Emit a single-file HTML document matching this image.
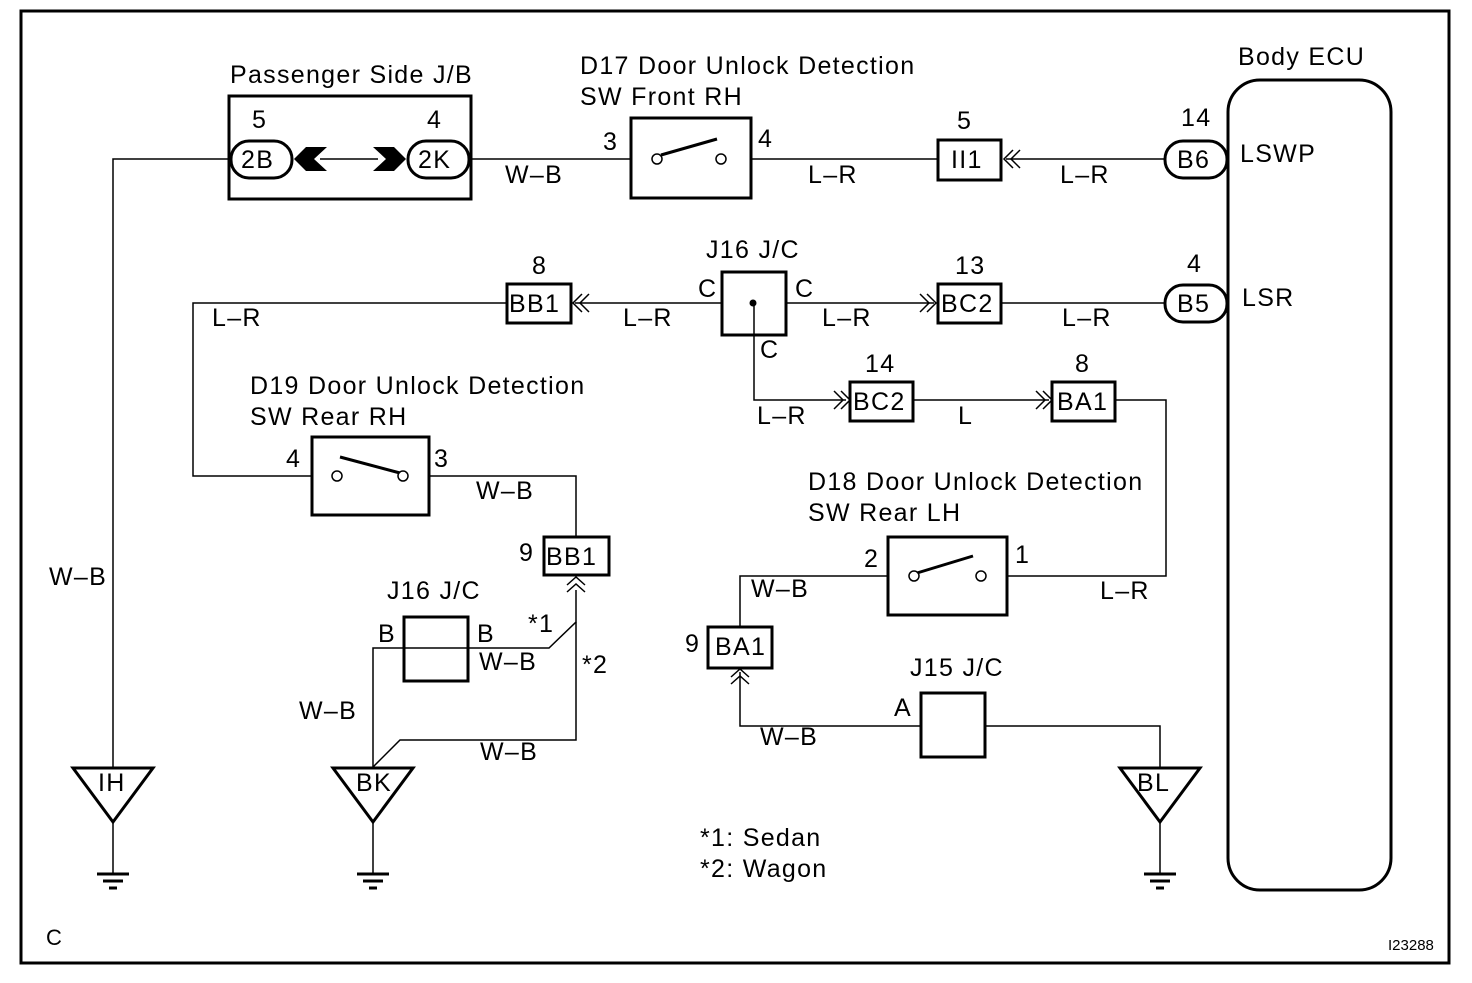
<!DOCTYPE html>
<html><head><meta charset="utf-8"><style>
html,body{margin:0;padding:0;background:#fff}
svg text{font-family:"Liberation Sans",Arial,sans-serif;font-size:25px;letter-spacing:1.3px;fill:#000}
</style></head><body>
<svg width="1472" height="978" viewBox="0 0 1472 978" xmlns="http://www.w3.org/2000/svg">
<rect x="21" y="11" width="1428" height="952" fill="none" stroke="#000" stroke-width="3"/>
<g fill="none" stroke="#000" stroke-width="1.5">
<polyline points="231,159 113,159 113,767"/>
<line x1="320" y1="159" x2="378" y2="159"/>
<line x1="469" y1="159" x2="631" y2="159"/>
<line x1="751" y1="159" x2="938" y2="159"/>
<line x1="1006" y1="159" x2="1165" y2="159"/>
<polyline points="507,303 193,303 193,476 312,476"/>
<line x1="575" y1="303" x2="722" y2="303"/>
<line x1="786" y1="303" x2="934" y2="303"/>
<line x1="1001" y1="303" x2="1165" y2="303"/>
<polyline points="754,303 754,400 846,400"/>
<line x1="913" y1="400" x2="1049" y2="400"/>
<polyline points="1115,400 1166,400 1166,576 1007,576"/>
<polyline points="429,476 576,476 576,537"/>
<polyline points="576,590 576,622 549,648 373,648 373,767"/>
<polyline points="576,622 576,740 400,740 373,767"/>
<polyline points="888,576 740,576 740,627"/>
<polyline points="740,672 740,726 921,726"/>
<polyline points="985,726 1160,726 1160,767"/>
<polyline points="1020,150 1011,159 1020,168"/><polyline points="1013,150 1004,159 1013,168"/>
<polyline points="589,294 580,303 589,312"/><polyline points="582,294 573,303 582,312"/>
<polyline points="920,294 929,303 920,312"/><polyline points="927,294 936,303 927,312"/>
<polyline points="834,391 843,400 834,409"/><polyline points="841,391 850,400 841,409"/>
<polyline points="1036,391 1045,400 1036,409"/><polyline points="1043,391 1052,400 1043,409"/>
<polyline points="567,585 576,577 585,585"/><polyline points="567,592 576,584 585,592"/>
<polyline points="731,677 740,669 749,677"/><polyline points="731,684 740,676 749,684"/>
<line x1="113" y1="822" x2="113" y2="873"/><line x1="373" y1="822" x2="373" y2="873"/><line x1="1160" y1="822" x2="1160" y2="873"/>
</g>
<g fill="none" stroke="#000" stroke-width="3">
<rect x="229" y="96" width="242" height="103"/>
<rect x="631" y="118" width="120" height="80"/>
<rect x="312" y="437" width="117" height="78"/>
<rect x="888" y="537" width="119" height="78"/>
<rect x="938" y="140" width="63" height="40"/>
<rect x="507" y="284" width="64" height="39"/>
<rect x="722" y="272" width="64" height="63"/>
<rect x="938" y="284" width="63" height="39"/>
<rect x="850" y="382" width="63" height="39"/>
<rect x="1052" y="382" width="63" height="39"/>
<rect x="544" y="537" width="65" height="38"/>
<rect x="404" y="617" width="64" height="64"/>
<rect x="708" y="627" width="64" height="41"/>
<rect x="921" y="693" width="64" height="64"/>
<rect x="1228" y="80" width="163" height="810" rx="32"/>
<rect x="231" y="141" width="61" height="37" rx="18"/>
<rect x="408" y="141" width="61" height="37" rx="18"/>
<rect x="1165" y="141" width="62" height="37" rx="18"/>
<rect x="1165" y="285" width="62" height="37" rx="18"/>
<polygon points="73,768 153,768 113,822"/>
<polygon points="333,768 413,768 373,822"/>
<polygon points="1120,768 1200,768 1160,822"/>
<line x1="97" y1="874" x2="129" y2="874"/><line x1="103" y1="881" x2="123" y2="881"/><line x1="109" y1="888" x2="117" y2="888"/>
<line x1="357" y1="874" x2="389" y2="874"/><line x1="363" y1="881" x2="383" y2="881"/><line x1="369" y1="888" x2="377" y2="888"/>
<line x1="1144" y1="874" x2="1176" y2="874"/><line x1="1150" y1="881" x2="1170" y2="881"/><line x1="1156" y1="888" x2="1164" y2="888"/>
<line x1="661" y1="155" x2="717" y2="139"/>
<line x1="340" y1="457" x2="400" y2="473"/>
<line x1="917" y1="573" x2="973" y2="556"/>
</g>
<g fill="#fff" stroke="#000" stroke-width="1.5">
<circle cx="657" cy="159" r="5"/><circle cx="721" cy="159" r="5"/>
<circle cx="337" cy="476" r="5"/><circle cx="403" cy="476" r="5"/>
<circle cx="914" cy="576" r="5"/><circle cx="981" cy="576" r="5"/>
</g>
<circle cx="753" cy="303" r="3.5" fill="#000"/>
<polygon points="294,159 306,147 327,147 314,159 327,171 306,171" fill="#000"/>
<polygon points="406,159 394,147 373,147 386,159 373,171 394,171" fill="#000"/>
<g>
<text x="230" y="83">Passenger Side J/B</text>
<text x="252" y="128">5</text><text x="427" y="128">4</text>
<text x="241" y="168">2B</text><text x="418" y="168">2K</text>
<text x="580" y="74">D17 Door Unlock Detection</text>
<text x="580" y="105">SW Front RH</text>
<text x="603" y="150">3</text><text x="758" y="147">4</text>
<text x="505" y="183">W–B</text><text x="808" y="183">L–R</text>
<text x="957" y="129">5</text><text x="951" y="168">II1</text>
<text x="1060" y="183">L–R</text>
<text x="1238" y="65">Body ECU</text>
<text x="1181" y="126">14</text><text x="1177" y="168">B6</text>
<text x="1240" y="162">LSWP</text>
<text x="1187" y="272">4</text><text x="1177" y="312">B5</text>
<text x="1242" y="306">LSR</text>
<text x="706" y="258">J16 J/C</text>
<text x="698" y="297">C</text><text x="795" y="297">C</text><text x="760" y="358">C</text>
<text x="532" y="274">8</text><text x="509" y="312">BB1</text>
<text x="212" y="326">L–R</text><text x="623" y="326">L–R</text>
<text x="822" y="326">L–R</text><text x="1062" y="326">L–R</text>
<text x="955" y="274">13</text><text x="941" y="312">BC2</text>
<text x="865" y="372">14</text><text x="853" y="410">BC2</text>
<text x="1075" y="372">8</text><text x="1057" y="410">BA1</text>
<text x="757" y="424">L–R</text><text x="958" y="424">L</text>
<text x="250" y="394">D19 Door Unlock Detection</text>
<text x="250" y="425">SW Rear RH</text>
<text x="286" y="467">4</text><text x="434" y="467">3</text>
<text x="476" y="499">W–B</text>
<text x="519" y="561">9</text><text x="546" y="565">BB1</text>
<text x="387" y="599">J16 J/C</text>
<text x="378" y="642">B</text><text x="477" y="642">B</text>
<text x="528" y="632">*1</text><text x="582" y="673">*2</text>
<text x="479" y="670">W–B</text>
<text x="299" y="719">W–B</text>
<text x="480" y="760">W–B</text>
<text x="49" y="585">W–B</text>
<text x="98" y="791">IH</text><text x="356" y="791">BK</text><text x="1137" y="791">BL</text>
<text x="808" y="490">D18 Door Unlock Detection</text>
<text x="808" y="521">SW Rear LH</text>
<text x="864" y="567">2</text><text x="1015" y="563">1</text>
<text x="751" y="597">W–B</text><text x="1100" y="599">L–R</text>
<text x="685" y="652">9</text><text x="715" y="655">BA1</text>
<text x="910" y="676">J15 J/C</text>
<text x="894" y="716">A</text>
<text x="760" y="745">W–B</text>
<text x="700" y="846">*1: Sedan</text>
<text x="700" y="877">*2: Wagon</text>
<text x="46" y="945" style="font-size:22px;letter-spacing:0">C</text>
<text x="1388" y="950" style="font-size:15px;letter-spacing:0">I23288</text>
</g>
</svg>
</body></html>
